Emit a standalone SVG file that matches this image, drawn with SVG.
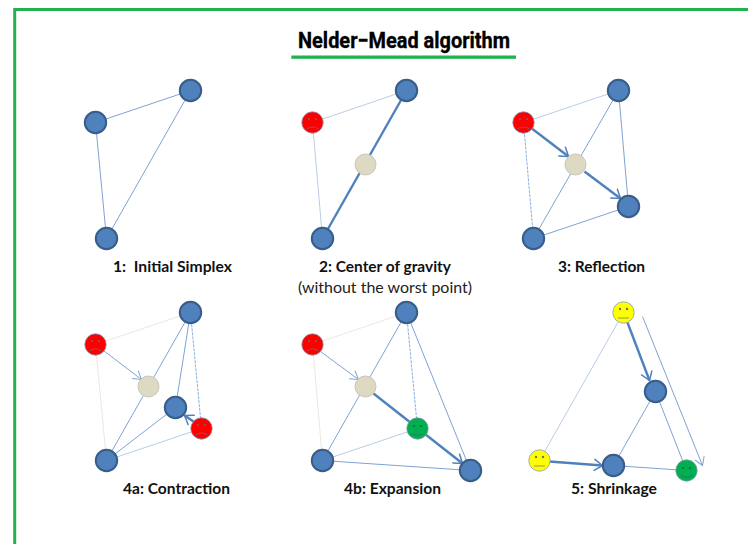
<svg xmlns="http://www.w3.org/2000/svg" width="748" height="544" viewBox="0 0 748 544">
<style>
.bg{fill:#fff}
.frame{fill:none;stroke:#21b14f;stroke-width:3}
.rule{fill:#21b14f}
.title{font-family:"Roboto","Liberation Sans",sans-serif;font-weight:700;font-size:22.500px;fill:#000;stroke:#000;stroke-width:.35}
.lab{font-family:"Lato","Liberation Sans",sans-serif;font-weight:700;font-size:14.500px;fill:#111}
.lab2{font-family:"Lato","Liberation Sans",sans-serif;font-weight:400;font-size:14.500px;fill:#222}
.b{fill:#4f81bd;stroke:#385d8a;stroke-width:2}
.g{fill:#ddd9c3;stroke:#c6c6b8;stroke-width:1}
.face{stroke:#8a9bb5;stroke-width:.8}
.red{fill:#ff0000}.yel{fill:#ffff00}.grn{fill:#00b050}
.eye{fill:#7a5f7a}
.eyeg{fill:#1f5f58}
.eyey{fill:#6f7a50}
.m{fill:none;stroke:#7a5f7a;stroke-width:.9}
.mg{fill:none;stroke:#1f7f68;stroke-width:1.100}
.my{fill:none;stroke:#8f9a50;stroke-width:1}
.c1{fill:none;stroke:#7fa3d3;stroke-width:1}
.c0{fill:none;stroke:#b9cde6;stroke-width:1}
.cf{fill:none;stroke:#ece9dd;stroke-width:1}
.cd{fill:none;stroke:#8fb0da;stroke-width:1;stroke-dasharray:3 1}
.c2{fill:none;stroke:#4f81bd;stroke-width:2.400}
.ah{fill:none;stroke:#4f81bd;stroke-width:1.500;stroke-linecap:round;stroke-linejoin:round}
</style>
<defs>
<marker id="arr" markerUnits="userSpaceOnUse" markerWidth="16" markerHeight="16" refX="11" refY="8" orient="auto"><path class="ah" d="M3 2.500L11 8L3 13.500"/></marker>
<marker id="arrThin" markerUnits="userSpaceOnUse" markerWidth="16" markerHeight="16" refX="11" refY="8" orient="auto"><path fill="none" stroke="#7fa3d3" stroke-width="1" d="M3 3L11 8L3 13"/></marker>
<g id="sad"><circle class="face red" r="10.700"/><circle class="eye" cx="-3.500" cy="-3.500" r="1"/><circle class="eye" cx="3.500" cy="-3.500" r="1"/><path class="m" d="M-6 6.500Q0 2.500 6 6.500"/></g>
<g id="neutral"><circle class="face yel" r="10.700"/><circle class="eyey" cx="-3.500" cy="-3.500" r="1.200"/><circle class="eyey" cx="3.500" cy="-3.500" r="1.200"/><path class="my" d="M-5.500 5.500H5.500"/></g>
<g id="happy"><circle class="face grn" r="10.700"/><circle class="eyeg" cx="-3.500" cy="-2.500" r="1.100"/><circle class="eyeg" cx="3.500" cy="-2.500" r="1.100"/><path class="mg" d="M-6 5Q0 8.500 6 5"/></g>
</defs>
<rect class="bg" width="748" height="544"/>
<g id="frame"><path class="frame" d="M14.700 546V9.500H750"/></g>
<g id="heading">
<text class="title" x="298" y="48" textLength="212" lengthAdjust="spacingAndGlyphs">Nelder−Mead algorithm</text>
<rect class="rule" x="291.300" y="55.500" width="224.700" height="3.300"/>
</g>
<g id="connectors" transform="translate(.5 .5)">
<path class="c1" d="M95 122L190 90M95 122L106 238M190 90L106 238"/>
<path class="c0" d="M312 122L406 90M312 122L322 238"/>
<path class="c2" d="M406 90L322 238"/>
<path class="c0" d="M523 122L618 90"/>
<path class="cd" d="M523 122L533 238"/>
<path class="c1" d="M618 90L533 238M618 90L628 206M533 238L628 206"/>
<path class="c2" marker-end="url(#arr)" d="M530 127L568 156"/>
<path class="c2" marker-end="url(#arr)" d="M584 171L620 198"/>
<path class="cf" d="M95 344L190 312M95 344L106 460"/>
<path class="c1" d="M190 312L106 460M190 312L175 407M106 460L175 407"/>
<path class="cd" d="M190 312L201 428"/>
<path class="c0" d="M106 460L201 428"/>
<path class="c1" marker-end="url(#arrThin)" d="M103 350L141 379"/>
<path class="c2" marker-end="url(#arr)" d="M193 421L184 415"/>
<path class="cf" d="M312 344L406 312M312 344L322 460"/>
<path class="c1" d="M406 312L322 460M406 312L470 470M322 460L470 470"/>
<path class="cd" d="M406 312L417 428"/>
<path class="c0" d="M322 460L417 428"/>
<path class="c1" marker-end="url(#arrThin)" d="M320 351L358 379"/>
<path class="c2" marker-end="url(#arr)" d="M373 393L462 463"/>
<path class="c0" d="M623 312L539 460"/>
<path class="c1" d="M655 391L613 465M655 391L686 470M613 465L686 470"/>
<path class="c2" marker-end="url(#arr)" d="M627 322L649 380"/>
<path class="c2" marker-end="url(#arr)" d="M549 461L602 465"/>
<path class="c1" marker-end="url(#arrThin)" d="M642 316L702 465"/>
</g>
<g id="panel1" transform="translate(.5 .5)">
<g id="p1-a"><circle class="b" cx="95" cy="122" r="10.700"/></g>
<g id="p1-b"><circle class="b" cx="190" cy="90" r="10.700"/></g>
<g id="p1-c"><circle class="b" cx="106" cy="238" r="10.700"/></g>
<text class="lab" x="112.500" y="271.500" textLength="119" lengthAdjust="spacingAndGlyphs" xml:space="preserve">1:  Initial Simplex</text>
</g>
<g id="panel2" transform="translate(.5 .5)">
<g id="p2-a"><use href="#sad" x="312" y="122"/></g>
<g id="p2-b"><circle class="b" cx="406" cy="90" r="10.700"/></g>
<g id="p2-c"><circle class="b" cx="322" cy="238" r="10.700"/></g>
<g id="p2-d"><circle class="g" cx="365" cy="164" r="10.500"/></g>
<text class="lab" x="318.500" y="271.500" textLength="132" lengthAdjust="spacingAndGlyphs">2: Center of gravity</text>
<text class="lab2" x="297.500" y="292.500" textLength="174" lengthAdjust="spacingAndGlyphs">(without the worst point)</text>
</g>
<g id="panel3" transform="translate(.5 .5)">
<g id="p3-a"><use href="#sad" x="523" y="122"/></g>
<g id="p3-b"><circle class="b" cx="618" cy="90" r="10.700"/></g>
<g id="p3-c"><circle class="b" cx="533" cy="238" r="10.700"/></g>
<g id="p3-d"><circle class="g" cx="575" cy="164" r="10.500"/></g>
<g id="p3-e"><circle class="b" cx="628" cy="206" r="10.700"/></g>
<text class="lab" x="557.500" y="271.500" textLength="87" lengthAdjust="spacingAndGlyphs">3: Reflection</text>
</g>
<g id="panel4a" transform="translate(.5 .5)">
<g id="p4a-a"><use href="#sad" x="95" y="344"/></g>
<g id="p4a-b"><circle class="b" cx="190" cy="312" r="10.700"/></g>
<g id="p4a-c"><circle class="b" cx="106" cy="460" r="10.700"/></g>
<g id="p4a-d"><circle class="g" cx="148" cy="386" r="10.500"/></g>
<g id="p4a-e"><circle class="b" cx="175" cy="407" r="10.700"/></g>
<g id="p4a-f"><use href="#sad" x="201" y="428"/></g>
<text class="lab" x="122.500" y="493.500" textLength="107" lengthAdjust="spacingAndGlyphs">4a: Contraction</text>
</g>
<g id="panel4b" transform="translate(.5 .5)">
<g id="p4b-a"><use href="#sad" x="312" y="344"/></g>
<g id="p4b-b"><circle class="b" cx="406" cy="312" r="10.700"/></g>
<g id="p4b-c"><circle class="b" cx="322" cy="460" r="10.700"/></g>
<g id="p4b-d"><circle class="g" cx="365" cy="386" r="10.500"/></g>
<g id="p4b-e"><use href="#happy" x="417" y="428"/></g>
<g id="p4b-f"><circle class="b" cx="470" cy="470" r="10.700"/></g>
<text class="lab" x="343.500" y="493.500" textLength="97" lengthAdjust="spacingAndGlyphs">4b: Expansion</text>
</g>
<g id="panel5" transform="translate(.5 .5)">
<g id="p5-a"><use href="#neutral" x="623" y="312"/></g>
<g id="p5-b"><circle class="b" cx="655" cy="391" r="10.700"/></g>
<g id="p5-c"><circle class="b" cx="613" cy="465" r="10.700"/></g>
<g id="p5-d"><use href="#neutral" x="539" y="460"/></g>
<g id="p5-e"><use href="#happy" x="686" y="470"/></g>
<text class="lab" x="570.500" y="493.500" textLength="86" lengthAdjust="spacingAndGlyphs">5: Shrinkage</text>
</g>
</svg>
